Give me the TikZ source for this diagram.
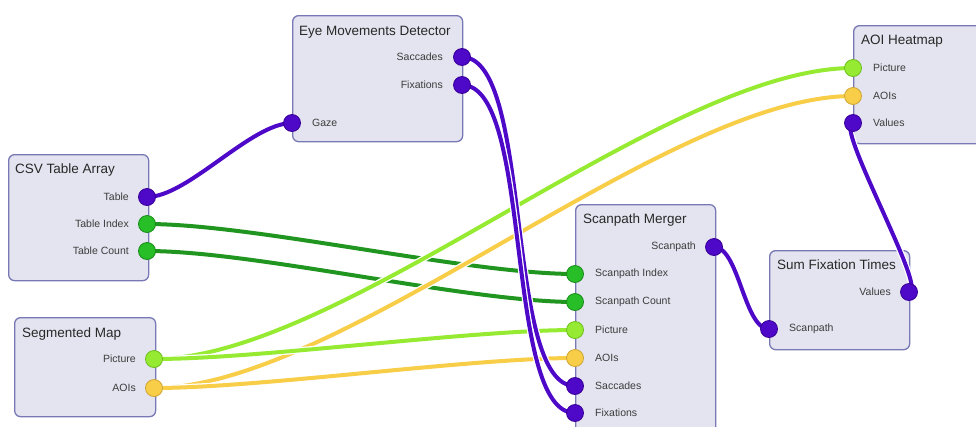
\documentclass[tikz,border=0pt]{standalone}
\usepackage{fontspec}
\setmainfont{Liberation Sans}
\definecolor{boxfill}{RGB}{228,228,240}
\definecolor{boxline}{RGB}{120,120,182}
\definecolor{ttlcol}{RGB}{40,40,40}
\definecolor{lblcol}{RGB}{60,60,60}
\definecolor{purp}{RGB}{78,8,200}
\definecolor{purpD}{RGB}{55,0,150}
\definecolor{grn}{RGB}{40,190,40}
\definecolor{grnD}{RGB}{25,140,25}
\definecolor{grnW}{RGB}{32,150,32}
\definecolor{lgrn}{RGB}{150,235,50}
\definecolor{lgrnD}{RGB}{110,190,30}
\definecolor{yel}{RGB}{248,205,72}
\definecolor{yelD}{RGB}{205,165,50}
\tikzset{
  box/.style={draw=boxline, fill=boxfill, rounded corners=6pt, line width=1.3pt, anchor=north west, inner sep=0pt},
  ttl/.style={anchor=base west, font=\fontsize{13.5}{15}\selectfont, text=ttlcol, inner sep=0pt},
  lbl/.style={font=\fontsize{10.5}{12}\selectfont, text=lblcol, inner sep=0pt},
  olbl/.style={lbl, anchor=east},
  ilbl/.style={lbl, anchor=west},
  port/.style={circle, inner sep=0pt, minimum size=17pt, line width=0.8pt},
  pP/.style={port, fill=purp, draw=purpD},
  pG/.style={port, fill=grn, draw=grnD},
  pL/.style={port, fill=lgrn, draw=lgrnD},
  pY/.style={port, fill=yel, draw=yelD},
  wire/.style={line width=4pt, preaction={draw=white, line width=6.5pt}},
}
\begin{document}
\begin{tikzpicture}[x=1pt,y=-1pt]
\useasboundingbox (0,0) rectangle (976,426);
\clip (0,0) rectangle (976,426);
\fill[white] (0,0) rectangle (976,426);

% boxes
\node[box, minimum width=140pt, minimum height=126pt] (csv) at (8,154) {};
\node[box, minimum width=170pt, minimum height=126pt] (eye) at (292,15) {};
\node[box, minimum width=141pt, minimum height=99pt] (seg) at (14,317) {};
\node[box, minimum width=140pt, minimum height=240pt] (mer) at (575,204) {};
\node[box, minimum width=140pt, minimum height=99pt] (sum) at (769,250) {};
\node[box, minimum width=150pt, minimum height=118pt] (heat) at (853,25) {};

% titles
\node[ttl] (csvT) at (15,173) {CSV Table Array};
\node[ttl] (eyeT) at (299,35) {Eye Movements Detector};
\node[ttl] (segT) at (22,337) {Segmented Map};
\node[ttl] (merT) at (583,223) {Scanpath Merger};
\node[ttl] (sumT) at (777,269) {Sum Fixation Times};
\node[ttl] (heatT) at (861,44) {AOI Heatmap};

% port coordinates
\coordinate (tbl) at (147,197);
\coordinate (idx) at (147,224);
\coordinate (cnt) at (147,251);
\coordinate (sac) at (462,57);
\coordinate (fix) at (462,85);
\coordinate (gaze) at (292,123);
\coordinate (sPic) at (154,359);
\coordinate (sAoi) at (154,388);
\coordinate (mScan) at (714,247);
\coordinate (mIdx) at (575,274);
\coordinate (mCnt) at (575,302);
\coordinate (mPic) at (575,330);
\coordinate (mAoi) at (575,358);
\coordinate (mSac) at (575,386);
\coordinate (mFix) at (575,413);
\coordinate (fVal) at (909,292);
\coordinate (fScan) at (769,329);
\coordinate (hPic) at (853,68);
\coordinate (hAoi) at (853,96);
\coordinate (hVal) at (853,123);

% labels
\node[olbl] (lTbl) at (129,197) {Table};
\node[olbl] (lIdx) at (129,224) {Table Index};
\node[olbl] (lCnt) at (129,251) {Table Count};
\node[olbl] (lSac) at (443,57) {Saccades};
\node[olbl] (lFix) at (443,85) {Fixations};
\node[ilbl] (lGaze) at (312,123) {Gaze};
\node[olbl] (lSPic) at (136,359) {Picture};
\node[olbl] (lSAoi) at (136,388) {AOIs};
\node[olbl] (lMScan) at (696,247) {Scanpath};
\node[ilbl] (lMIdx) at (595,274) {Scanpath Index};
\node[ilbl] (lMCnt) at (595,302) {Scanpath Count};
\node[ilbl] (lMPic) at (595,330) {Picture};
\node[ilbl] (lMAoi) at (595,358) {AOIs};
\node[ilbl] (lMSac) at (595,386) {Saccades};
\node[ilbl] (lMFix) at (595,413) {Fixations};
\node[olbl] (lFVal) at (891,292) {Values};
\node[ilbl] (lFScan) at (789,329) {Scanpath};
\node[ilbl] (lHPic) at (873,68) {Picture};
\node[ilbl] (lHAoi) at (873,96) {AOIs};
\node[ilbl] (lHVal) at (873,123) {Values};

% wires
\draw[wire, grnW] (idx) .. controls +(108,0) and +(-108,0) .. (mIdx);
\draw[wire, grnW] (cnt) .. controls +(108,0) and +(-108,0) .. (mCnt);
\draw[wire, yel] (sAoi) .. controls +(189,0) and +(-189,0) .. (hAoi);
\draw[wire, lgrn] (sPic) .. controls +(189,0) and +(-189,0) .. (hPic);
\draw[wire, yel] (sAoi) .. controls +(106,0) and +(-106,0) .. (mAoi);
\draw[wire, lgrn] (sPic) .. controls +(106,0) and +(-106,0) .. (mPic);
\draw[wire, purp] (tbl) .. controls +(41,0) and +(-41,0) .. (gaze);
\draw[wire, purp] (sac) .. controls +(72,0) and +(-72,0) .. (mSac);
\draw[wire, purp] (fix) .. controls +(72,0) and +(-72,0) .. (mFix);
\draw[wire, purp] (mScan) .. controls +(25,0) and +(-25,0) .. (fScan);
\draw[wire, purp] (fVal) .. controls +(20,0) and +(-20,0) .. (hVal);

% ports
\node[pP] (pTbl) at (tbl) {};
\node[pG] (pIdx) at (idx) {};
\node[pG] (pCnt) at (cnt) {};
\node[pP] (pSac) at (sac) {};
\node[pP] (pFix) at (fix) {};
\node[pP] (pGaze) at (gaze) {};
\node[pL] (pSPic) at (sPic) {};
\node[pY] (pSAoi) at (sAoi) {};
\node[pP] (pMScan) at (mScan) {};
\node[pG] (pMIdx) at (mIdx) {};
\node[pG] (pMCnt) at (mCnt) {};
\node[pL] (pMPic) at (mPic) {};
\node[pY] (pMAoi) at (mAoi) {};
\node[pP] (pMSac) at (mSac) {};
\node[pP] (pMFix) at (mFix) {};
\node[pP] (pFVal) at (fVal) {};
\node[pP] (pFScan) at (fScan) {};
\node[pL] (pHPic) at (hPic) {};
\node[pY] (pHAoi) at (hAoi) {};
\node[pP] (pHVal) at (hVal) {};
\end{tikzpicture}
\end{document}
